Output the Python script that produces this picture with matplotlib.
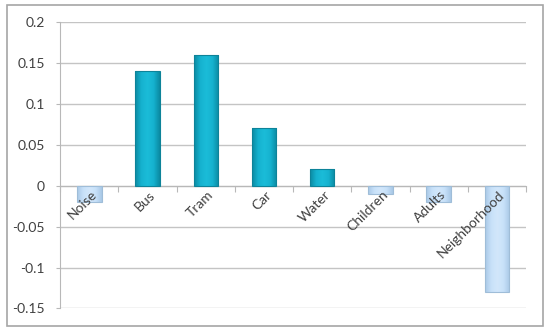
import matplotlib.pyplot as plt
import matplotlib.patches as mpatches
from matplotlib.colors import LinearSegmentedColormap
import numpy as np

plt.rcParams['font.family'] = ['Lato', 'DejaVu Sans']

categories = ["Noise", "Bus", "Tram", "Car", "Water", "Children", "Adults", "Neighborhood"]
values = [-0.02, 0.14, 0.16, 0.07, 0.02, -0.01, -0.02, -0.13]
yticks = [-0.15, -0.1, -0.05, 0, 0.05, 0.1, 0.15, 0.2]
ytick_labels = ["-0.15", "-0.1", "-0.05", "0", "0.05", "0.1", "0.15", "0.2"]

fig = plt.figure(figsize=(5.5, 3.32), dpi=100)
ax = fig.add_axes([0.1096, 0.0708, 0.8468, 0.8629])

# outer chart border
fig.patches.append(mpatches.Rectangle((0.012, 0.018), 0.975, 0.966, transform=fig.transFigure,
                                      fill=False, edgecolor="#a6a6a6", linewidth=1.2))

pos_cmap = LinearSegmentedColormap.from_list("pos", ["#0b8aa2", "#15b2cf", "#1bbcd8", "#15b2cf", "#0b8aa2"])
neg_cmap = LinearSegmentedColormap.from_list("neg", ["#a9c8e6", "#c8e1f9", "#d2e7fb", "#c8e1f9", "#a9c8e6"])
grad = np.linspace(0, 1, 64).reshape(1, -1)

x = np.arange(len(categories))
w = 0.42
for xi, v in zip(x, values):
    edge = "#0d8399" if v > 0 else "#9fbdd8"
    cmap = pos_cmap if v > 0 else neg_cmap
    bar = ax.bar(xi, v, width=w, color="none", edgecolor=edge, linewidth=0.8, zorder=3)[0]
    im = ax.imshow(grad, cmap=cmap, aspect="auto", extent=(xi - w / 2, xi + w / 2, 0, v),
                   zorder=2.9, interpolation="bilinear")
    im.set_clip_path(bar)

ax.set_xlim(-0.5, len(categories) - 0.5)
ax.set_ylim(-0.15, 0.2)
ax.set_yticks(yticks)
ax.set_yticklabels(ytick_labels)
ax.yaxis.grid(True, color="#c4c4c4", linewidth=1.0, zorder=0)
ax.set_axisbelow(True)

for s in ["top", "right"]:
    ax.spines[s].set_visible(False)
ax.spines["left"].set_color("#b8b8b8")
ax.spines["bottom"].set_position(("data", 0))
ax.spines["bottom"].set_color("#b8b8b8")

# boundary ticks; category labels drawn as text above the bars
ax.set_xticks(np.arange(-0.5, len(categories)))
ax.set_xticklabels([])
ax.tick_params(axis="x", which="major", length=4, color="#b8b8b8")
ax.tick_params(axis="y", length=3, color="#b8b8b8", labelsize=10, labelcolor="#404040", pad=8)
for xi, name in zip(x, categories):
    ax.annotate(name, (xi, 0), xytext=(1, -2), textcoords="offset points",
                rotation=45, ha="right", va="top", rotation_mode="anchor",
                fontsize=10, color="#404040", zorder=6)

plt.savefig("out.png", dpi=100)
